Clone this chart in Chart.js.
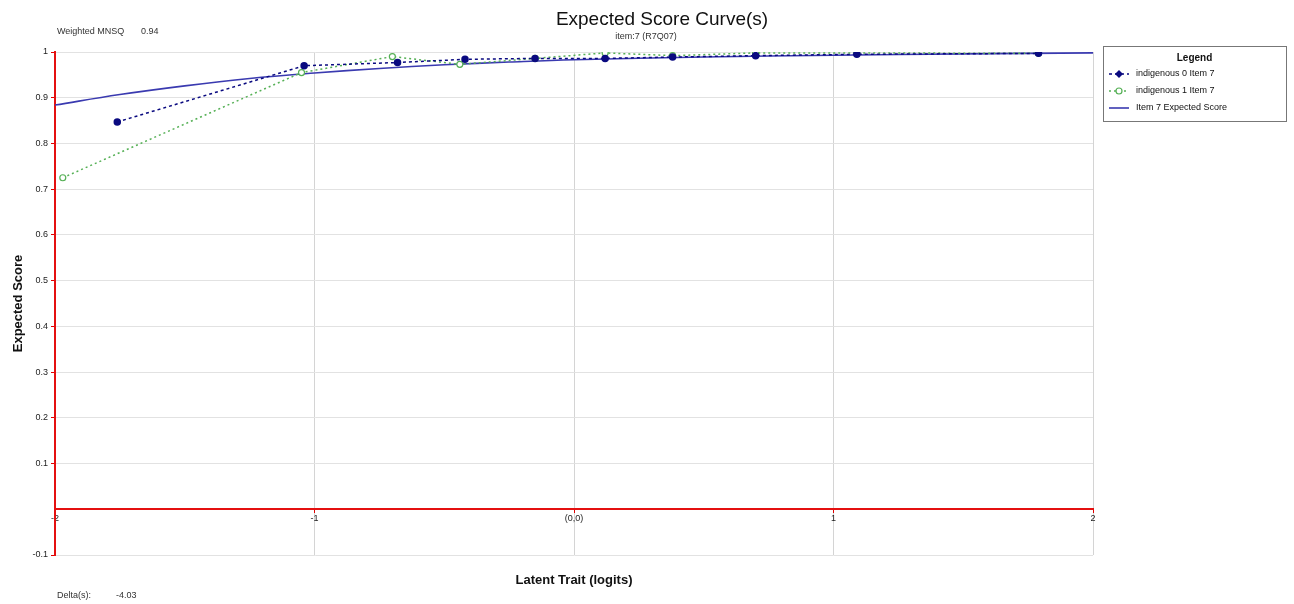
<!DOCTYPE html>
<html lang="en">
<head>
<meta charset="UTF-8">
<title>Expected Score Curve(s)</title>
<script src="https://cdn.jsdelivr.net/npm/chart.js@4"></script>
<style>
  html, body { margin: 0; padding: 0; background: #fff; }
</style>
</head>
<body>
<canvas id="scoreChart" width="1294" height="604"></canvas>

<script>
// observed scores, indigenous = 0
const abilityG0 = [-1.76, -1.04, -0.68, -0.42, -0.15, 0.12, 0.38, 0.70, 1.09, 1.79];
const scoreG0   = [0.847, 0.970, 0.977, 0.984, 0.986, 0.986, 0.989, 0.992, 0.995, 0.997];

// observed scores, indigenous = 1
const abilityG1 = [-1.97, -1.05, -0.70, -0.44, -0.15, 0.12, 0.38, 0.70, 1.09, 1.79];
const scoreG1   = [0.725, 0.955, 0.990, 0.973, 0.986, 0.998, 0.992, 0.998, 0.998, 0.997];

// model curve for item 7
const abilityCurve = [-2, -1.75, -1.5, -1.25, -1, -0.75, -0.5, -0.25, 0, 0.5, 1, 1.5, 2];
const scoreCurve   = [0.884, 0.907, 0.926, 0.942, 0.954, 0.964, 0.972, 0.978, 0.983, 0.989, 0.993, 0.996, 0.998];

const seriesNames = ['indigenous 0 Item 7', 'indigenous 1 Item 7', 'Item 7 Expected Score'];
const xTicks = [-2, -1, 0, 1, 2];

const chartTitle = 'Expected Score Curve(s)';
const chartSubtitle = 'item:7 (R7Q07)';
const fitText = ['Weighted MNSQ', '0.94'];
const deltaText = ['Delta(s):', '-4.03'];

const FONT = '"Liberation Sans", Arial, sans-serif';
const pts = (xs, ys) => xs.map((x, i) => ({ x: x, y: ys[i] }));

// titles, notes and boxed legend
const extras = {
    id: 'extras',
    afterDraw(chart) {
        const { ctx, chartArea: a } = chart;
        ctx.save();
        ctx.fillStyle = '#111';
        ctx.textBaseline = 'middle';

        ctx.textAlign = 'center';
        ctx.font = '19px ' + FONT;
        ctx.fillText(chartTitle, 662, 20);
        ctx.font = '9px ' + FONT;
        ctx.fillStyle = '#333';
        ctx.fillText(chartSubtitle, 646, 37);

        ctx.textAlign = 'left';
        ctx.fillText(fitText[0], 57, 32);
        ctx.fillText(fitText[1], 141, 32);
        ctx.fillText(deltaText[0], 57, 596);
        ctx.fillText(deltaText[1], 116, 596);

        // axis titles
        ctx.fillStyle = '#111';
        ctx.font = 'bold 13px ' + FONT;
        ctx.textAlign = 'center';
        ctx.fillText('Latent Trait (logits)', (a.left + a.right) / 2, 580);
        ctx.save();
        ctx.translate(18, (a.top + a.bottom) / 2);
        ctx.rotate(-Math.PI / 2);
        ctx.fillText('Expected Score', 0, 0);
        ctx.restore();

        // legend box
        const bx = 1103, by = 46, bw = 183, bh = 75;
        ctx.fillStyle = '#fff';
        ctx.fillRect(bx, by, bw, bh);
        ctx.strokeStyle = '#777';
        ctx.lineWidth = 1;
        ctx.strokeRect(bx + 0.5, by + 0.5, bw, bh);
        ctx.fillStyle = '#111';
        ctx.font = 'bold 10px ' + FONT;
        ctx.fillText('Legend', bx + bw / 2, by + 12);

        ctx.font = '9px ' + FONT;
        chart.data.datasets.forEach((ds, i) => {
            const y = by + 28 + i * 17;
            ctx.save();
            ctx.strokeStyle = ds.borderColor;
            ctx.lineWidth = ds.borderWidth;
            ctx.setLineDash(ds.borderDash || []);
            ctx.beginPath();
            ctx.moveTo(bx + 6, y);
            ctx.lineTo(bx + 26, y);
            ctx.stroke();
            ctx.setLineDash([]);
            if (ds.legendMarker === 'diamond') {
                ctx.fillStyle = ds.borderColor;
                ctx.beginPath();
                ctx.moveTo(bx + 16, y - 4);
                ctx.lineTo(bx + 20, y);
                ctx.lineTo(bx + 16, y + 4);
                ctx.lineTo(bx + 12, y);
                ctx.closePath();
                ctx.fill();
            } else if (ds.legendMarker === 'circle') {
                ctx.fillStyle = '#fff';
                ctx.beginPath();
                ctx.arc(bx + 16, y, 3, 0, Math.PI * 2);
                ctx.fill();
                ctx.lineWidth = 1.2;
                ctx.stroke();
            }
            ctx.restore();
            ctx.fillStyle = '#111';
            ctx.textAlign = 'left';
            ctx.fillText(ds.label, bx + 33, y);
        });
        ctx.restore();
    }
};

const ctx = document.getElementById('scoreChart').getContext('2d');
const chart = new Chart(ctx, {
    type: 'scatter',
    data: {
        datasets: [
            {
                label: seriesNames[0],
                data: pts(abilityG0, scoreG0),
                showLine: true,
                borderColor: '#0a0a80',
                backgroundColor: '#0a0a80',
                borderWidth: 1.5,
                borderDash: [3, 3],
                pointRadius: 3,
                pointHoverRadius: 3,
                legendMarker: 'diamond',
                order: 1
            },
            {
                label: seriesNames[1],
                data: pts(abilityG1, scoreG1),
                showLine: true,
                borderColor: '#55b055',
                backgroundColor: '#ffffff',
                borderWidth: 1.5,
                borderDash: [2, 3],
                pointRadius: 3,
                pointBorderWidth: 1.2,
                legendMarker: 'circle',
                order: 2
            },
            {
                label: seriesNames[2],
                data: pts(abilityCurve, scoreCurve),
                showLine: true,
                borderColor: '#3a3ab0',
                backgroundColor: '#3a3ab0',
                borderWidth: 1.6,
                pointRadius: 0,
                tension: 0.4,
                legendMarker: 'line',
                order: 3
            }
        ]
    },
    options: {
        responsive: false,
        animation: false,
        layout: { padding: { left: 0, right: 201, top: 52, bottom: 49 } },
        plugins: {
            legend: { display: false },
            title: { display: false },
            tooltip: { enabled: false }
        },
        scales: {
            x: {
                type: 'linear',
                position: { y: 0 },
                min: -2,
                max: 2,
                afterBuildTicks: (scale) => { scale.ticks = xTicks.map(v => ({ value: v })); },
                ticks: {
                    padding: 1,
                    maxRotation: 0,
                    color: '#222',
                    font: { family: FONT, size: 9 },
                    callback: (v) => v === 0 ? '(0,0)' : String(v)
                },
                grid: {
                    color: '#d4d4d4',
                    lineWidth: 1,
                    tickColor: '#e00000',
                    tickLength: 3
                },
                border: { color: '#e41010', width: 2 }
            },
            y: {
                type: 'linear',
                position: 'left',
                min: -0.1,
                max: 1,
                afterFit: (scale) => { scale.width = 55; },
                ticks: {
                    stepSize: 0.1,
                    padding: 3,
                    color: '#222',
                    font: { family: FONT, size: 9 },
                    callback: (v) => Math.abs(v) < 1e-9 ? '' : String(Math.round(v * 10) / 10)
                },
                grid: {
                    color: '#e2e2e2',
                    lineWidth: 1,
                    tickColor: (c) => Math.abs(c.tick.value) < 1e-9 ? 'rgba(0,0,0,0)' : '#e00000',
                    tickLength: 4
                },
                border: { color: '#e41010', width: 2 }
            }
        }
    },
    plugins: [extras]
});
</script>
</body>
</html>
